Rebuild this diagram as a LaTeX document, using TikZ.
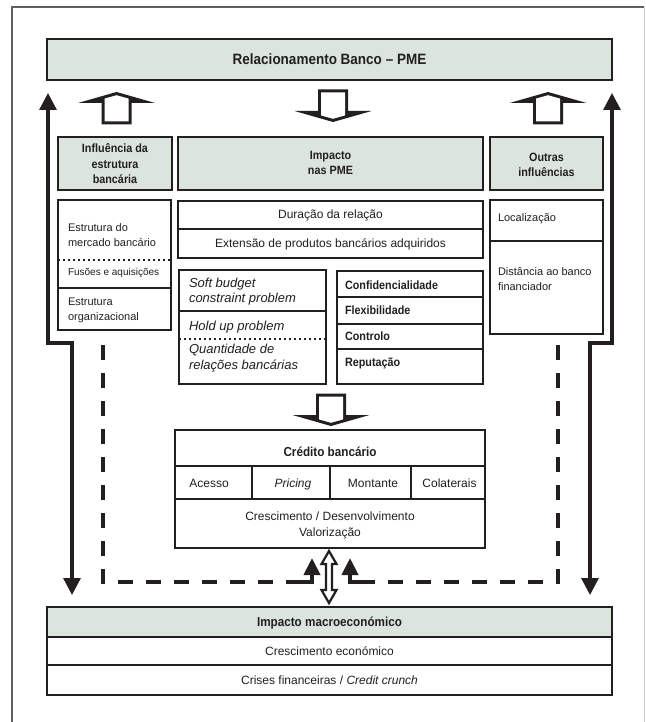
\documentclass[tikz,border=0pt]{standalone}
\usepackage{fontspec}
\setmainfont{Liberation Sans}[BoldFeatures={FakeStretch=0.9}]
\usetikzlibrary{arrows.meta}
\definecolor{ink}{RGB}{35,31,32}
\definecolor{hdr}{RGB}{219,229,222}
\definecolor{frm}{RGB}{95,95,95}
\definecolor{frmlight}{RGB}{205,205,205}
\newcommand{\blockarrowshape}{%
  \fill[ink] (-15,32.5) -- (-15,11) -- (-38.5,11) -- (0,0) -- (38.5,11) -- (15,11) -- (15,32.5) -- cycle;
  \fill[white] (-12,29.5) -- (-12,6.6) -- (0,3.2) -- (12,6.6) -- (12,29.5) -- cycle;}
\begin{document}
\begin{tikzpicture}[x=1pt,y=-1pt,
  box/.style={draw=ink, line width=2.8pt, inner sep=0pt, outer sep=0pt},
  hbox/.style={box, fill=hdr},
  sepline/.style={draw=ink, line width=2.2pt},
  dotline/.style={draw=ink, line width=2.4pt, dash pattern=on 2.4pt off 2.6pt},
  stem/.style={draw=ink, line width=3.2pt, {Triangle[width=17pt,length=17pt]}-{Triangle[width=17pt,length=17pt]}},
  dashl/.style={draw=ink, line width=4.5pt, dash pattern=on 15pt off 13pt},
  smallarr/.style={draw=ink, line width=4pt, -{Triangle[width=16pt,length=17pt]}},
  dblarr/.style={draw=ink, fill=white, line width=2.2pt, line join=miter},
  txt/.style={inner sep=0pt, outer sep=0pt, anchor=base, text=ink},
  txtl/.style={txt, anchor=base west},
  r10/.style={font=\fontsize{10}{12}\selectfont},
  r11/.style={font=\fontsize{11}{13}\selectfont},
  r12/.style={font=\fontsize{12}{14}\selectfont},
  b11/.style={font=\fontsize{12}{14}\selectfont\bfseries},
  b12/.style={font=\fontsize{13}{15}\selectfont\bfseries},
  b13/.style={font=\fontsize{15}{17}\selectfont\bfseries},
  i13/.style={font=\fontsize{13}{15}\selectfont\itshape}]

\useasboundingbox (0,0) rectangle (645,722);
\fill[white] (0,0) rectangle (645,722);

% outer frame
\draw[frm, line width=1.5pt] (12,722) -- (12,7) -- (644,7);
\draw[frmlight, line width=1pt] (644,7) -- (644,722);

% boxes
\node[hbox, minimum width=565pt, minimum height=41pt] (T) at (329.5,59.5) {};
\node[hbox, minimum width=114pt, minimum height=53pt] (H1) at (115,163.5) {};
\node[hbox, minimum width=305pt, minimum height=53pt] (H2) at (330.5,163.5) {};
\node[hbox, minimum width=113pt, minimum height=53pt] (H3) at (546.5,163.5) {};

\node[box, minimum width=113pt, minimum height=130pt] (L) at (114.5,265) {};
\draw[dotline] (58,260) -- (171,260);
\draw[box] (58,288) -- (171,288);

\node[box, minimum width=305pt, minimum height=28pt] (D1) at (330.5,215) {};
\node[box, minimum width=305pt, minimum height=29pt] (D2) at (330.5,243.5) {};

\node[box, minimum width=147pt, minimum height=114pt] (S) at (252.5,327) {};
\draw[sepline] (179,311) -- (326,311);
\draw[dotline] (179,339) -- (326,339);

\node[box, minimum width=146pt, minimum height=113pt] (C) at (410,327.5) {};
\draw[sepline] (337,297) -- (483,297);
\draw[sepline] (337,324) -- (483,324);
\draw[sepline] (337,349) -- (483,349);

\node[box, minimum width=113pt, minimum height=41pt] (R1) at (546.5,220.5) {};
\node[box, minimum width=113pt, minimum height=93pt] (R2) at (546.5,287.5) {};

\node[box, minimum width=310pt, minimum height=118pt] (K) at (330,489) {};
\draw[sepline] (175,466) -- (485,466);
\draw[sepline] (175,499) -- (485,499);
\draw[sepline] (252,466) -- (252,499);
\draw[sepline] (330,466) -- (330,499);
\draw[sepline] (411,466) -- (411,499);

\node[hbox, minimum width=565pt, minimum height=30pt] (M1) at (329.5,622) {};
\node[box, minimum width=565pt, minimum height=28pt] (M2) at (329.5,651) {};
\node[box, minimum width=565pt, minimum height=30pt] (M3) at (329.5,680) {};

% texts
\node[txt, b13] (tT) at (329.5,64.5) {Relacionamento Banco – PME};
\node[txt, b11] (tH1a) at (115,153) {Influência da};
\node[txt, b11] (tH1b) at (115,168) {estrutura};
\node[txt, b11] (tH1c) at (115,183) {bancária};
\node[txt, b11] (tH2a) at (330.5,160) {Impacto};
\node[txt, b11] (tH2b) at (330.5,175) {nas PME};
\node[txt, b11] (tH3a) at (546.5,161) {Outras};
\node[txt, b11] (tH3b) at (546.5,176) {influências};

\node[txtl, r11] (tL1) at (68,231.6) {Estrutura do};
\node[txtl, r11] (tL2) at (68,246.6) {mercado bancário};
\node[txtl, r10] (tL3) at (68,275.3) {Fusões e aquisições};
\node[txtl, r11] (tL4) at (68,305.6) {Estrutura};
\node[txtl, r11] (tL5) at (68,320.6) {organizacional};

\node[txt, r12] (tD1) at (330.5,218) {Duração da relação};
\node[txt, r12] (tD2) at (330.5,247) {Extensão de produtos bancários adquiridos};

\node[txtl, i13] (tS1) at (189,287.3) {Soft budget};
\node[txtl, i13] (tS2) at (189,302.3) {constraint problem};
\node[txtl, i13] (tS3) at (189,330.3) {Hold up problem};
\node[txtl, i13] (tS4) at (189,353) {Quantidade de};
\node[txtl, i13] (tS5) at (189,369) {relações bancárias};

\node[txtl, b11] (tC1) at (345,289.3) {Confidencialidade};
\node[txtl, b11] (tC2) at (345,314.8) {Flexibilidade};
\node[txtl, b11] (tC3) at (345,340.6) {Controlo};
\node[txtl, b11] (tC4) at (345,366.6) {Reputação};

\node[txtl, r11] (tR1) at (498,221.6) {Localização};
\node[txtl, r11] (tR2) at (498,275.6) {Distância ao banco};
\node[txtl, r11] (tR3) at (498,290.6) {financiador};

\node[txt, b12] (tK) at (330,456.5) {Crédito bancário};
\node[txt, r12] (tK1) at (209,487) {Acesso};
\node[txt, r12, font=\fontsize{12}{14}\selectfont\itshape] (tK2) at (293,487) {Pricing};
\node[txt, r12] (tK3) at (373,487) {Montante};
\node[txt, r12] (tK4) at (449.5,487) {Colaterais};
\node[txt, r12] (tK5) at (330,520) {Crescimento / Desenvolvimento};
\node[txt, r12] (tK6) at (330,536) {Valorização};

\node[txt, b12] (tM1) at (329.5,626.5) {Impacto macroeconómico};
\node[txt, r12] (tM2) at (329.5,655) {Crescimento económico};
\node[txt, r12] (tM3) at (329.5,684) {Crises financeiras / \textit{Credit crunch}};

% hollow block arrows
\begin{scope}[shift={(116.5,92)}] \blockarrowshape \end{scope}
\begin{scope}[shift={(548,92)}] \blockarrowshape \end{scope}
\begin{scope}[shift={(333,122)}, yscale=-1] \blockarrowshape \end{scope}
\begin{scope}[shift={(331,426)}, yscale=-1] \blockarrowshape \end{scope}

% long stepped double arrows
\coordinate (la1) at (48,93);  \coordinate (la2) at (48,343);
\coordinate (la3) at (72,343); \coordinate (la4) at (72,595);
\draw[stem] (la1) -- (la2) -- (la3) -- (la4);
\coordinate (ra1) at (612,93);  \coordinate (ra2) at (612,343);
\coordinate (ra3) at (590,343); \coordinate (ra4) at (590,595);
\draw[stem] (ra1) -- (ra2) -- (ra3) -- (ra4);

% dashed feedback lines
\coordinate (dl1) at (103,345); \coordinate (dl2) at (103,582);
\coordinate (dl3) at (293,582); \coordinate (dl4) at (312,582);
\coordinate (dl5) at (312,558);
\draw[dashl] (dl1) -- (dl2) -- (dl3);
\draw[smallarr] (dl3) -- (dl4) -- (dl5);
\coordinate (dr1) at (558,345); \coordinate (dr2) at (558,582);
\coordinate (dr3) at (369,582); \coordinate (dr4) at (350,582);
\coordinate (dr5) at (350,558);
\draw[dashl] (dr1) -- (dr2) -- (dr3);
\draw[smallarr] (dr3) -- (dr4) -- (dr5);

% double hollow arrow between Credito and macro impact
\draw[dblarr] (329,551) -- (336.5,564) -- (332,564) -- (332,590) -- (336.5,590)
  -- (329,603) -- (321.5,590) -- (326,590) -- (326,564) -- (321.5,564) -- cycle;
\end{tikzpicture}
\end{document}
